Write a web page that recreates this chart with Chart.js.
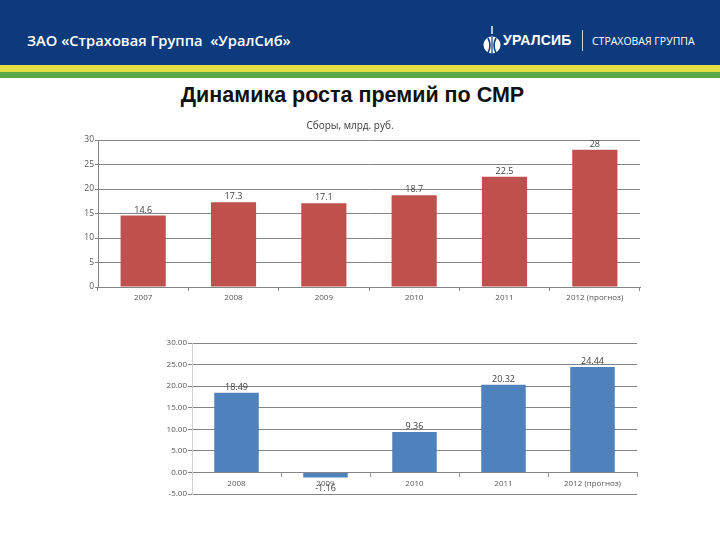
<!DOCTYPE html>
<html>
<head>
<meta charset="utf-8">
<script src="https://cdn.jsdelivr.net/npm/chart.js@4/dist/chart.umd.min.js"></script>
<style>
  body { margin: 0; width: 720px; height: 540px; background: #fff; position: relative; overflow: hidden; font-family: "Open Sans", sans-serif; }
  .hdr { position: absolute; left: 0; top: 0; width: 720px; height: 65px; background: #0c3a7d; }
  .yel { position: absolute; left: 0; top: 65px; width: 720px; height: 7px; background: #e4df45; }
  .grn { position: absolute; left: 0; top: 72px; width: 720px; height: 6px; background: #5aa847; }
  .co { position: absolute; left: 27px; top: 30px; color: #fff; font-size: 14.7px; font-weight: 600; white-space: nowrap; }
  .logo { position: absolute; left: 482px; top: 26px; height: 30px; color: #fff; white-space: nowrap; }
  .logo .brand { position: absolute; left: 21px; top: 6px; font-family: "Liberation Sans", Arial, sans-serif; font-weight: 700; font-size: 14px; letter-spacing: 0.2px; }
  .logo .sep { position: absolute; left: 100px; top: 4px; width: 1px; height: 21px; background: #c8d2e6; }
  .logo .grp { position: absolute; left: 110px; top: 8px; font-family: "Open Sans", sans-serif; font-size: 10.5px; }
  .title { position: absolute; left: 0; width: 705px; top: 83px; text-align: center; font-family: "Liberation Sans", Arial, sans-serif; font-weight: 700; font-size: 21.5px; color: #111; }
  .box { position: absolute; }
</style>
</head>
<body>
<div class="hdr"></div>
<div class="yel"></div>
<div class="grn"></div>
<div class="co">ЗАО «Страховая Группа&nbsp; «УралСиб»</div>
<div class="logo">
  <svg width="20" height="30" viewBox="0 0 20 30" style="position:absolute;left:0;top:0">
    <rect x="9.3" y="0" width="1.4" height="8" fill="#fff"/>
    <circle cx="10" cy="19" r="8.5" fill="#fff"/>
    <path d="M6 12 Q10 19 6 27" stroke="#0c3a7d" stroke-width="1.6" fill="none"/>
    <path d="M14 12 Q10 19 14 27" stroke="#0c3a7d" stroke-width="1.6" fill="none"/>
    <path d="M10 11 L10 28" stroke="#0c3a7d" stroke-width="1.2"/>
  </svg>
  <span class="brand">УРАЛСИБ</span>
  <span class="sep"></span>
  <span class="grp">СТРАХОВАЯ ГРУППА</span>
</div>
<div class="title">Динамика роста премий по СМР</div>

<div class="box" style="left:60px;top:110px;width:590px;height:200px"><canvas id="top"></canvas></div>
<div class="box" style="left:150px;top:330px;width:500px;height:170px"><canvas id="bottom"></canvas></div>

<script>
// Сборы, млрд. руб.
const topYears = ['2007', '2008', '2009', '2010', '2011', '2012 (прогноз)'];
const topValues = [14.6, 17.3, 17.1, 18.7, 22.5, 28];
const topTitle = 'Сборы, млрд. руб.';

// прирост, %
const bottomYears = ['2008', '2009', '2010', '2011', '2012 (прогноз)'];
const bottomValues = [18.49, -1.16, 9.36, 20.32, 24.44];

const chartFont = '"Open Sans", "DejaVu Sans", sans-serif';
const gridColor = '#858585';
const textColor = '#555';

Chart.defaults.font.family = chartFont;
Chart.defaults.font.size = 8;
Chart.defaults.color = textColor;

// value labels over the bars
function valueLabels(fmt) {
    return {
        id: 'valueLabels',
        afterDatasetsDraw(chart) {
            const ctx = chart.ctx;
            const meta = chart.getDatasetMeta(0);
            const data = chart.data.datasets[0].data;
            ctx.save();
            ctx.font = '9px ' + chartFont;
            ctx.fillStyle = '#404040';
            ctx.textAlign = 'center';
            meta.data.forEach((bar, i) => {
                const v = data[i];
                if (v >= 0) {
                    ctx.textBaseline = 'bottom';
                    ctx.fillText(fmt(v), bar.x, bar.y - 1);
                } else {
                    ctx.textBaseline = 'top';
                    ctx.fillText(fmt(v), bar.x, bar.y + 7);
                }
            });
            ctx.restore();
        }
    };
}

new Chart(document.getElementById('top'), {
    type: 'bar',
    data: {
        labels: topYears,
        datasets: [{
            data: topValues,
            backgroundColor: '#c0504d',
            categoryPercentage: 1,
            barPercentage: 0.5,
        }]
    },
    options: {
        responsive: true,
        maintainAspectRatio: false,
        animation: false,
        layout: { padding: { left: 0, right: 10, top: 0, bottom: 0 } },
        plugins: {
            legend: { display: false },
            tooltip: { enabled: false },
            title: {
                display: true,
                text: topTitle,
                color: '#3a3a3a',
                font: { size: 10, family: chartFont, weight: 'normal', lineHeight: 1.2 },
                padding: { top: 10, bottom: 8 },
            },
        },
        scales: {
            x: {
                grid: { display: true, drawOnChartArea: false, color: gridColor, tickLength: 4, offset: true },
                border: { color: gridColor },
                ticks: { padding: 2, font: { size: 8 }, maxRotation: 0 },
                afterFit(s) { s.height = 23; },
            },
            y: {
                min: 0,
                max: 30,
                ticks: { stepSize: 5, padding: 1, font: { size: 8.5 } },
                grid: { color: gridColor, tickLength: 3 },
                border: { color: gridColor },
                afterFit(s) { s.width = 38; },
            }
        }
    },
    plugins: [valueLabels(v => String(v))]
});

new Chart(document.getElementById('bottom'), {
    type: 'bar',
    data: {
        labels: bottomYears,
        datasets: [{
            data: bottomValues,
            backgroundColor: '#4f81bd',
            categoryPercentage: 1,
            barPercentage: 0.5,
        }]
    },
    options: {
        responsive: true,
        maintainAspectRatio: false,
        animation: false,
        layout: { padding: { left: 0, right: 13, top: 13, bottom: 6 } },
        plugins: {
            legend: { display: false },
            tooltip: { enabled: false },
        },
        scales: {
            x: {
                position: { y: 0 },
                grid: { display: true, drawOnChartArea: false, color: '#999', tickLength: 4, offset: true },
                border: { color: gridColor },
                ticks: { padding: 2, font: { size: 8 }, maxRotation: 0 },
            },
            y: {
                min: -5,
                max: 30,
                ticks: { stepSize: 5, padding: 1, font: { size: 8 }, callback: v => v.toFixed(2) },
                grid: { color: gridColor, tickLength: 4 },
                border: { color: '#d0d0d0' },
                afterFit(s) { s.width = 42; },
            }
        }
    },
    plugins: [valueLabels(v => v.toFixed(2))]
});
</script>
</body>
</html>
